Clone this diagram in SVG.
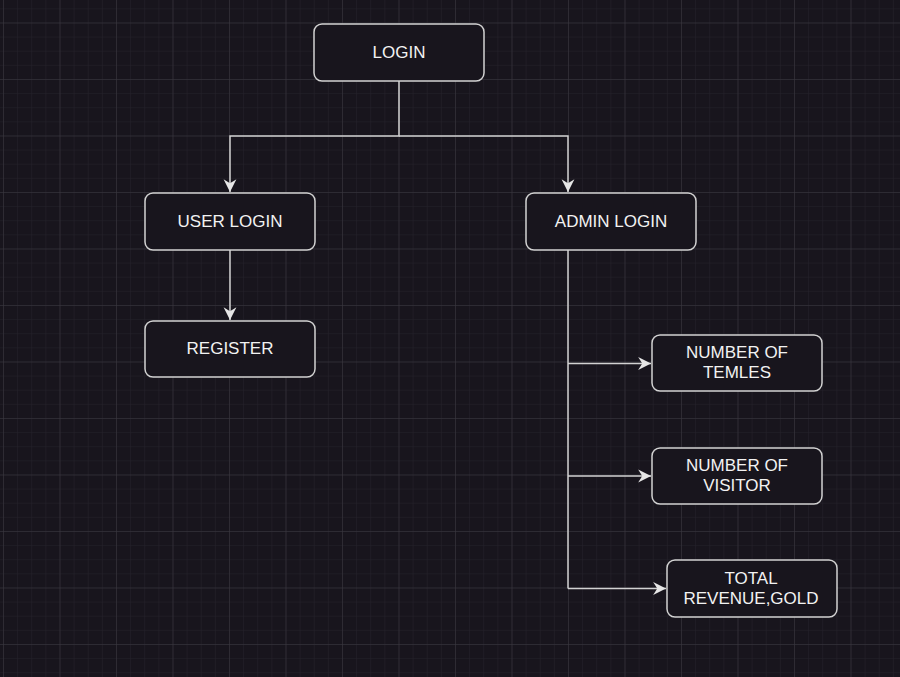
<svg xmlns="http://www.w3.org/2000/svg" width="900" height="677" viewBox="0 0 900 677">
<defs>
<pattern id="minor" patternUnits="userSpaceOnUse" x="3" y="22.5" width="14.125" height="14.125">
<path d="M0,0 H14.125 M0,0 V14.125" fill="none" stroke="#26232c" stroke-width="1"/>
</pattern>
<pattern id="major" patternUnits="userSpaceOnUse" x="3" y="22.5" width="56.5" height="56.5">
<path d="M0,0 H56.5 M0,0 V56.5" fill="none" stroke="#3b3941" stroke-width="1"/>
</pattern>
<marker id="arr" markerUnits="userSpaceOnUse" markerWidth="14" markerHeight="14" viewBox="0 0 12 12" refX="11" refY="6" orient="auto">
<path d="M0,0.5 L11,6 L0,11.5 L3.5,6 Z" fill="#e6e6e6"/>
</marker>
<style>
.node rect{fill:#18151d;stroke:#d2d2d2;stroke-width:1.5}
.node text{fill:#f2f2f2;font-family:"Liberation Sans",Arial,sans-serif;font-size:17px;text-anchor:middle}
.edge{fill:none;stroke:#d2d2d2;stroke-width:1.5}
</style>
</defs>
<rect width="900" height="677" fill="#18151d"/>
<rect width="900" height="677" fill="url(#minor)"/>
<rect width="900" height="677" fill="url(#major)"/>
<g id="connectors">
<path class="edge" d="M399,81 V136 H230 V192" marker-end="url(#arr)"/>
<path class="edge" d="M399,136 H568 V192" marker-end="url(#arr)"/>
<path class="edge" d="M230,250 V320" marker-end="url(#arr)"/>
<path class="edge" d="M568,250 V588.5"/>
<path class="edge" d="M568,363.5 H651" marker-end="url(#arr)"/>
<path class="edge" d="M568,476 H651" marker-end="url(#arr)"/>
<path class="edge" d="M568,588.5 H666" marker-end="url(#arr)"/>
</g>
<g id="login" class="node"><rect x="314" y="24" width="170" height="57" rx="8"/><text x="399" y="58">LOGIN</text></g>
<g id="user-login" class="node"><rect x="145" y="193" width="170" height="57" rx="8"/><text x="230" y="227">USER LOGIN</text></g>
<g id="register" class="node"><rect x="145" y="321" width="170" height="56" rx="8"/><text x="230" y="354">REGISTER</text></g>
<g id="admin-login" class="node"><rect x="526" y="193" width="170" height="57" rx="8"/><text x="611" y="227">ADMIN LOGIN</text></g>
<g id="number-of-temples" class="node"><rect x="652" y="335" width="170" height="56" rx="8"/><text x="737" y="358">NUMBER OF</text><text x="737" y="378">TEMLES</text></g>
<g id="number-of-visitor" class="node"><rect x="652" y="448" width="170" height="56" rx="8"/><text x="737" y="471">NUMBER OF</text><text x="737" y="491">VISITOR</text></g>
<g id="total-revenue" class="node"><rect x="667" y="560" width="170" height="57" rx="8"/><text x="751" y="584">TOTAL</text><text x="751" y="604">REVENUE,GOLD</text></g>
</svg>
